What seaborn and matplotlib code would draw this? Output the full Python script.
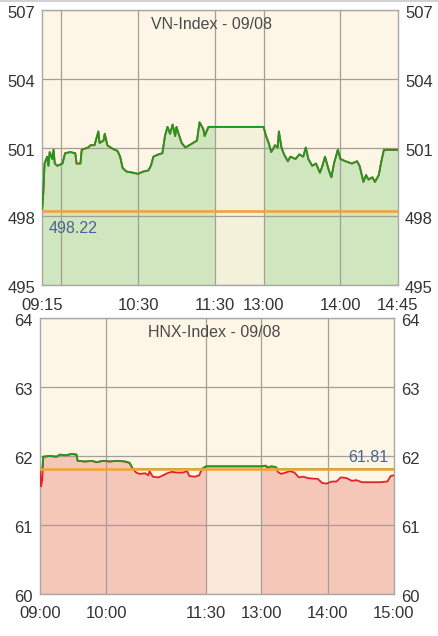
import numpy as np
import pandas as pd
import matplotlib
matplotlib.use("Agg")
import matplotlib.pyplot as plt
from matplotlib.transforms import ScaledTranslation
import seaborn as sns

# ---------------- data ----------------
vn_times = ["09:15", "09:16", "09:17", "09:19", "09:20", "09:21", "09:23", "09:24", "09:25", "09:27",
            "09:31", "09:33", "09:37", "09:41", "09:42", "09:45", "09:46", "09:51", "09:53", "09:56",
            "09:59", "10:00", "10:03", "10:04", "10:06", "10:10", "10:14", "10:16", "10:18", "10:21",
            "10:26", "10:30", "10:34", "10:38", "10:40", "10:42", "10:46", "10:49", "10:51", "10:53",
            "10:55", "10:57", "10:59", "11:00", "11:04", "11:07", "11:10", "11:13", "11:16", "11:18",
            "11:21", "11:22", "11:25", "11:28", "11:30",
            "13:00", "13:02", "13:04", "13:06", "13:09", "13:11", "13:12", "13:14", "13:16", "13:19",
            "13:21", "13:25", "13:28", "13:31", "13:33", "13:35", "13:38", "13:41", "13:44", "13:46",
            "13:48", "13:51", "13:53", "13:55", "13:58", "14:00", "14:04", "14:09", "14:13", "14:15",
            "14:18", "14:20", "14:22", "14:25", "14:27", "14:30", "14:32", "14:34", "14:39", "14:45"]
vn_values = [498.22, 499.0, 500.3, 500.6, 500.2, 500.8, 500.5, 500.9, 500.3, 500.2,
             500.3, 500.75, 500.8, 500.75, 500.3, 500.3, 500.9, 501.0, 501.1, 501.1,
             501.7, 501.2, 501.3, 501.6, 501.1, 500.95, 500.85, 500.6, 500.1, 499.95,
             499.9, 499.85, 499.95, 500.0, 500.2, 500.6, 500.7, 500.75, 501.5, 501.9,
             501.6, 502.0, 501.5, 501.9, 501.2, 501.0, 501.1, 501.2, 501.3, 502.1,
             501.8, 501.5, 501.9, 501.9, 501.9,
             501.9, 501.5, 501.2, 500.8, 501.1, 501.0, 501.7, 501.0, 500.7, 500.4,
             500.6, 500.5, 500.7, 500.6, 501.0, 500.5, 500.2, 500.3, 499.9, 500.2,
             500.6, 500.0, 499.7, 500.3, 500.9, 500.5, 500.4, 500.3, 500.4, 500.2,
             499.5, 499.8, 499.6, 499.7, 499.5, 499.8, 500.4, 500.9, 500.9, 500.9]
vn_ref = 498.22
vn_title = "VN-Index - 09/08"
vn_yticks = [495, 498, 501, 504, 507]
vn_xticks = ["09:15", "10:30", "11:30", "13:00", "14:00", "14:45"]
vn_xgrid = ["09:30", "10:30", "11:30", "13:00", "14:00"]

hnx_times = ["09:00", "09:01", "09:02", "09:03", "09:09", "09:15", "09:18", "09:23", "09:29", "09:33",
             "09:34", "09:41", "09:47", "09:51", "09:57", "10:03", "10:10", "10:17", "10:21", "10:24",
             "10:27", "10:30", "10:35", "10:38", "10:39", "10:42", "10:47", "10:50", "10:55", "10:59",
             "11:04", "11:09", "11:13", "11:15", "11:20", "11:24", "11:26", "11:29", "11:30",
             "13:00", "13:04", "13:06", "13:09", "13:13", "13:15", "13:18", "13:22", "13:26", "13:30",
             "13:34", "13:38", "13:42", "13:48", "13:51", "13:55", "13:59", "14:04", "14:08", "14:12",
             "14:17", "14:22", "14:26", "14:31", "14:38", "14:47", "14:54", "14:57", "15:00"]
hnx_values = [61.81, 61.56, 61.65, 61.99, 62.00, 61.99, 62.02, 62.01, 62.03, 62.02,
              61.93, 61.92, 61.93, 61.91, 61.93, 61.92, 61.93, 61.92, 61.90, 61.81,
              61.76, 61.74, 61.75, 61.72, 61.78, 61.70, 61.69, 61.71, 61.75, 61.77,
              61.76, 61.76, 61.78, 61.71, 61.70, 61.72, 61.80, 61.84, 61.85,
              61.85, 61.86, 61.83, 61.85, 61.84, 61.77, 61.74, 61.76, 61.78, 61.76,
              61.69, 61.70, 61.68, 61.67, 61.67, 61.61, 61.60, 61.63, 61.63, 61.69,
              61.68, 61.64, 61.65, 61.62, 61.62, 61.62, 61.63, 61.71, 61.72]
hnx_ref = 61.81
hnx_title = "HNX-Index - 09/08"
hnx_yticks = [60, 61, 62, 63, 64]
hnx_xticks = ["09:00", "10:00", "11:30", "13:00", "14:00", "15:00"]
hnx_xgrid = ["10:00", "11:30", "13:00", "14:00"]

# ---------------- style ----------------
sns.set_theme(style="white")
plt.rcParams["font.family"] = ["Liberation Sans", "DejaVu Sans"]

BG = "#fdf5e6"
GRID = "#a49f96"
TXT = "#333333"
GREEN_LINE = "#1e9a1e"
RED_LINE = "#e02424"
ORANGE = "#f4a23a"
LBL = "#4a6490"


def to_min(t):
    h, m = t.split(":")
    return int(h) * 60 + int(m)


def make_pos(open_t, lunch_w):
    o = to_min(open_t)
    ls, le = to_min("11:30"), to_min("13:00")

    def pos(t):
        m = to_min(t)
        if m <= ls:
            return m - o
        return (ls - o) + lunch_w + (m - le)
    return pos


def draw(fig, ax, times, values, ref, title, yticks, xticks, xgrid, lunch_w,
         fill_col, lunch_col, ref_label_side, title_x):
    pos = make_pos(times[0], lunch_w)
    df = pd.DataFrame({"t": times, "v": values})
    df["x"] = [pos(t) for t in df["t"]]
    ymin, ymax = yticks[0], yticks[-1]
    ls, le = pos("11:30"), pos("13:00")

    ax.set_facecolor(BG)
    am = df[df["x"] <= ls]
    pm = df[df["x"] >= le]
    lu = df[(df["x"] >= ls) & (df["x"] <= le)]
    ax.fill_between(am["x"], am["v"], ymin, color=fill_col, lw=0, zorder=1)
    ax.fill_between(pm["x"], pm["v"], ymin, color=fill_col, lw=0, zorder=1)
    ax.fill_between(lu["x"], lu["v"], ymin, color=lunch_col, lw=0, zorder=1)

    for y in yticks:
        ax.axhline(y, color=GRID, lw=0.9, zorder=1.5)
    for t in xgrid:
        ax.axvline(pos(t), color=GRID, lw=0.9, zorder=1.5)

    # red (below reference) then green (above reference)
    sns.lineplot(x=df["x"], y=df["v"], ax=ax, color=RED_LINE, lw=1.3, zorder=3,
                 estimator=None, sort=False)
    sns.lineplot(x=df["x"], y=np.maximum(df["v"], ref), ax=ax, color=GREEN_LINE,
                 lw=1.3, zorder=3.2, estimator=None, sort=False)
    ax.axhline(ref, color=ORANGE, lw=1.9, zorder=4)

    ax.set_xlim(0, pos(times[-1]))
    ax.set_ylim(ymin, ymax)
    ax.set_yticks(yticks)
    ax.set_yticklabels([str(y) for y in yticks])
    ax.set_xticks([pos(t) for t in xticks])
    ax.set_xticklabels(xticks)
    ax.set_xlabel("")
    ax.set_ylabel("")
    ax.grid(False)
    ax.tick_params(axis="y", length=0, labelsize=12, labelcolor=TXT,
                   labelleft=True, labelright=True, pad=5)
    ax.tick_params(axis="x", length=0, labelsize=12, labelcolor=TXT, pad=9)
    shift = ScaledTranslation(0, -2 / 100, fig.dpi_scale_trans)
    for tick in ax.yaxis.get_major_ticks():
        tick.label1.set_transform(tick.label1.get_transform() + shift)
        tick.label2.set_transform(tick.label2.get_transform() + shift)
    for s in ax.spines.values():
        s.set_color("#a8a8a8")
        s.set_linewidth(1.0)

    ax.text(title_x, 0.947, title, transform=ax.transAxes, ha="center",
            va="center", fontsize=11.5, color="#4a4a4a", zorder=6)

    lbl = f"{ref:.2f}"
    if ref_label_side == "left":
        ax.annotate(lbl, xy=(0, ref), xycoords=("axes fraction", "data"),
                    xytext=(5, -7), textcoords="offset points", ha="left",
                    va="top", fontsize=11.5, color=LBL, zorder=6)
    else:
        ax.annotate(lbl, xy=(1, ref), xycoords=("axes fraction", "data"),
                    xytext=(-4, 3), textcoords="offset points", ha="right",
                    va="bottom", fontsize=11.5, color=LBL, zorder=6)


W, H = 438, 636
fig = plt.figure(figsize=(W / 100, H / 100), dpi=100)
fig.patch.set_facecolor("white")

ax1 = fig.add_axes([42 / W, (H - 285) / H, 356 / W, 275 / H])
ax2 = fig.add_axes([40 / W, (H - 594) / H, 354 / W, 276 / H])

draw(fig, ax1, vn_times, vn_values, vn_ref, vn_title, vn_yticks, vn_xticks, vn_xgrid,
     38, "#cfe6bf", "#f4f1da", "left", 0.475)
draw(fig, ax2, hnx_times, hnx_values, hnx_ref, hnx_title, hnx_yticks, hnx_xticks, hnx_xgrid,
     50, "#f5c7b9", "#fbe8d8", "right", 0.493)

fig.add_artist(plt.Line2D([0, 1], [0.999, 0.999], transform=fig.transFigure,
                          color="#c8c8c8", lw=1.2))

fig.savefig("out.png", dpi=100, facecolor="white")
